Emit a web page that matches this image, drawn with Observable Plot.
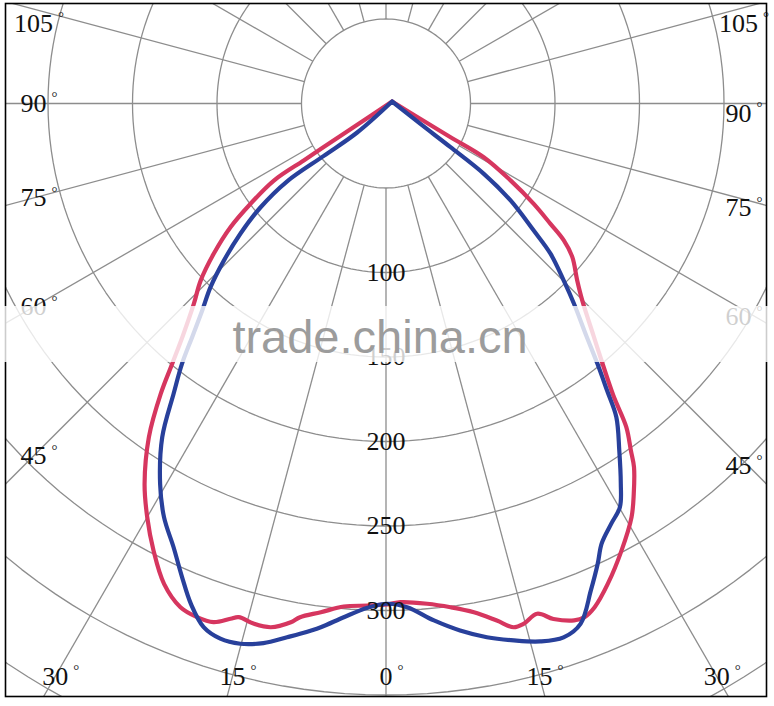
<!DOCTYPE html>
<html>
<head>
<meta charset="utf-8">
<script src="https://cdn.jsdelivr.net/npm/d3@7"></script>
<script src="https://cdn.jsdelivr.net/npm/@observablehq/plot@0.6"></script>
<style>
  body { margin: 0; background: #fff; }
  #chart { width: 774px; height: 706px; }
  #chart svg { display: block; }
</style>
</head>
<body>
<div id="chart"></div>
<script>
// ---- data (angle in degrees from straight down, + = right; value = intensity) ----
const redAngles = [108,-53.4,-55.0,-55.3,-55.5,-53.5,-51.5,-48.9,-46.3,-43.8,-41.2,-39.4,-37.8,-35.4,-32.4,-30,-27.5,-24.8,-22.2,-20.2,-18.4,-16.8,-16,-14.3,-12.4,-10.4,-9.5,-7.3,-4.8,-2.1,0.1,1.7,4.7,7.3,9.8,12.1,13.7,14.8,16.5,18,20,21.1,22.5,24.8,27.8,30.7,32.4,34.3,35.2,36.6,37.9,40.2,41.8,44.9,47.2,50.5,52.4,53.8,55.8,58.3,61.2,62.4,65.9,108];
const redValues = [3.8,21.2,45.0,59.2,80.5,99.7,117.6,135.3,151.7,164.3,182.4,199.3,217.5,242.2,266.6,282.6,298,313.1,321.9,323.8,323.4,318.5,316.2,317.6,317.3,312.1,308.2,303.5,298.7,297.3,296.4,295.2,297,300.5,305.5,312.9,319,318.5,314.9,320.7,325.5,325.9,322.6,313,298.9,284.6,273.6,260.4,251.4,238.5,219,196.6,184.2,164.5,154.2,142.9,132.8,120.6,105.7,86.6,66,43.1,22.4,3.8];

const blueAngles = [108,-44.8,-49.9,-51.8,-50.4,-48.2,-45.9,-43.7,-41.6,-39.8,-38.1,-36.2,-33.85,-30.7,-28.2,-25.6,-23.3,-21.3,-19.2,-17.2,-15.1,-12.8,-10.5,-9.2,-7.1,-4.7,-2.1,0.1,2.4,5.3,8,10.7,13.4,16,18.4,20.5,22.8,24.7,26.1,28.2,30.1,31.7,33.9,36.3,37.6,39.1,40.8,43.2,45.1,47.6,49.3,52.1,54.3,55.9,59.3,108];
const blueValues = [3.8,24.2,48.1,74.4,96.3,115.6,133.6,150.3,163.8,178.6,195.6,212.8,237.7,261.8,277.9,291,305.1,317.8,328.1,331.5,331.1,327.4,321.2,317.9,312.3,305,298.6,296,298.3,307.2,314.9,321.4,326.6,331.1,332.9,328.7,312.7,299.8,290,282.1,276,264.4,247.5,230.2,214.4,198.3,181.3,162.5,148.5,131.8,115.3,93.4,71.3,46.1,23.7,3.8];

const ringValues = [50,100,150,200,250,300,350,400];
const spokeAngles = [0,15,30,45,60,75,90,105,120,135,150,165,180,195,210,225,240,255,270,285,300,315,330,345];
const radialTickValues = [100,150,200,250,300];
const radialTickLabels = ["100","150","200","250","300"];
const angleTickAngles = [-105,-90,-75,-60,-45,-30,-15,0,15,30,45,60,75,90,105];
const angleTickLabels = ["105","90","75","60","45","30","15","0","15","30","45","60","75","90","105"];

// ---- layout ----
const W = 774, H = 706;
const mL = 5, mT = 3, mR = 8, mB = 10;
const cxPx = 385.5, cyPx = 103;       // pole position in pixels
const k = 1.69;                        // pixels per intensity unit
const rad = Math.PI / 180;
const px = (a, v) => v * Math.sin(a * rad);
const py = (a, v) => v * Math.cos(a * rad);

const red = redAngles.map((a, i) => ({a, v: redValues[i]}));
const blue = blueAngles.map((a, i) => ({a, v: blueValues[i]}));

const ringPts = [];
for (const r of ringValues) for (let a = 0; a <= 360; a += 2) ringPts.push({r, a});

// angle-label placement: along the ray, at a box inset from the frame
const sideX = 352.5, botY = 573, topY = -80;
const angleLabels = angleTickAngles.map((a, i) => {
  const s = Math.sin(a * rad), c = Math.cos(a * rad);
  let x, y;
  if (Math.abs(a) >= 45) {
    x = Math.sign(s) * sideX;
    y = sideX * c / Math.abs(s) + (s > 0 ? 10 : 0);
    y = Math.max(topY, y);
  } else {
    y = botY;
    x = botY * s / c;
  }
  return {x: x / k, y: y / k, label: angleTickLabels[i], n: angleTickLabels[i].length};
});

const serif = "'Liberation Serif', 'DejaVu Serif', serif";
const gridColor = "#8d8d8d";

const degMarks = [1, 2, 3].map(n =>
  Plot.text(angleLabels.filter(d => d.n === n), {
    x: "x", y: "y", text: () => "°", fontSize: 15, fontFamily: serif,
    fill: "#111", dx: n * 6.5 + 8, dy: -6
  })
);

const chart = Plot.plot({
  width: W, height: H,
  marginLeft: mL, marginTop: mT, marginRight: mR, marginBottom: mB,
  x: {domain: [-(cxPx - mL) / k, (W - mR - cxPx) / k], axis: null},
  y: {domain: [-(cyPx - mT) / k, (H - mB - cyPx) / k], reverse: true, axis: null},
  style: {background: "#fff"},
  marks: [
    Plot.line(ringPts, {x: d => px(d.a, d.r), y: d => py(d.a, d.r), z: "r",
      stroke: gridColor, strokeWidth: 1.3, clip: "frame"}),
    Plot.link(spokeAngles, {x1: a => px(a, 50), y1: a => py(a, 50),
      x2: a => px(a, 520), y2: a => py(a, 520),
      stroke: gridColor, strokeWidth: 1.3, clip: "frame"}),
    Plot.line(red, {x: d => px(d.a, d.v), y: d => py(d.a, d.v),
      stroke: "#d6365f", strokeWidth: 4.2, curve: "catmull-rom", strokeLinejoin: "round"}),
    Plot.line(blue, {x: d => px(d.a, d.v), y: d => py(d.a, d.v),
      stroke: "#28409b", strokeWidth: 4.2, curve: "catmull-rom", strokeLinejoin: "round"}),
    Plot.text(radialTickValues, {x: () => 0, y: d => d, text: (d, i) => radialTickLabels[i],
      fontSize: 26, fontFamily: serif, fill: "#111"}),
    Plot.text(angleLabels, {x: "x", y: "y", text: "label",
      fontSize: 26, fontFamily: serif, fill: "#111"}),
    ...degMarks,
    Plot.frame({stroke: "#000", strokeWidth: 1.6})
  ]
});

document.getElementById("chart").appendChild(chart);

// watermark band as in the reference picture
const svg = d3.select(chart);
svg.append("rect").attr("x", 0).attr("y", 306).attr("width", W).attr("height", 56)
  .attr("fill", "#fff").attr("fill-opacity", 0.8);
svg.append("text").attr("x", 380).attr("y", 353).attr("text-anchor", "middle")
  .attr("font-family", "'Liberation Sans', Arial, sans-serif").attr("font-size", 47)
  .attr("fill", "#9c9c9c").text("trade.china.cn");
</script>
</body>
</html>
